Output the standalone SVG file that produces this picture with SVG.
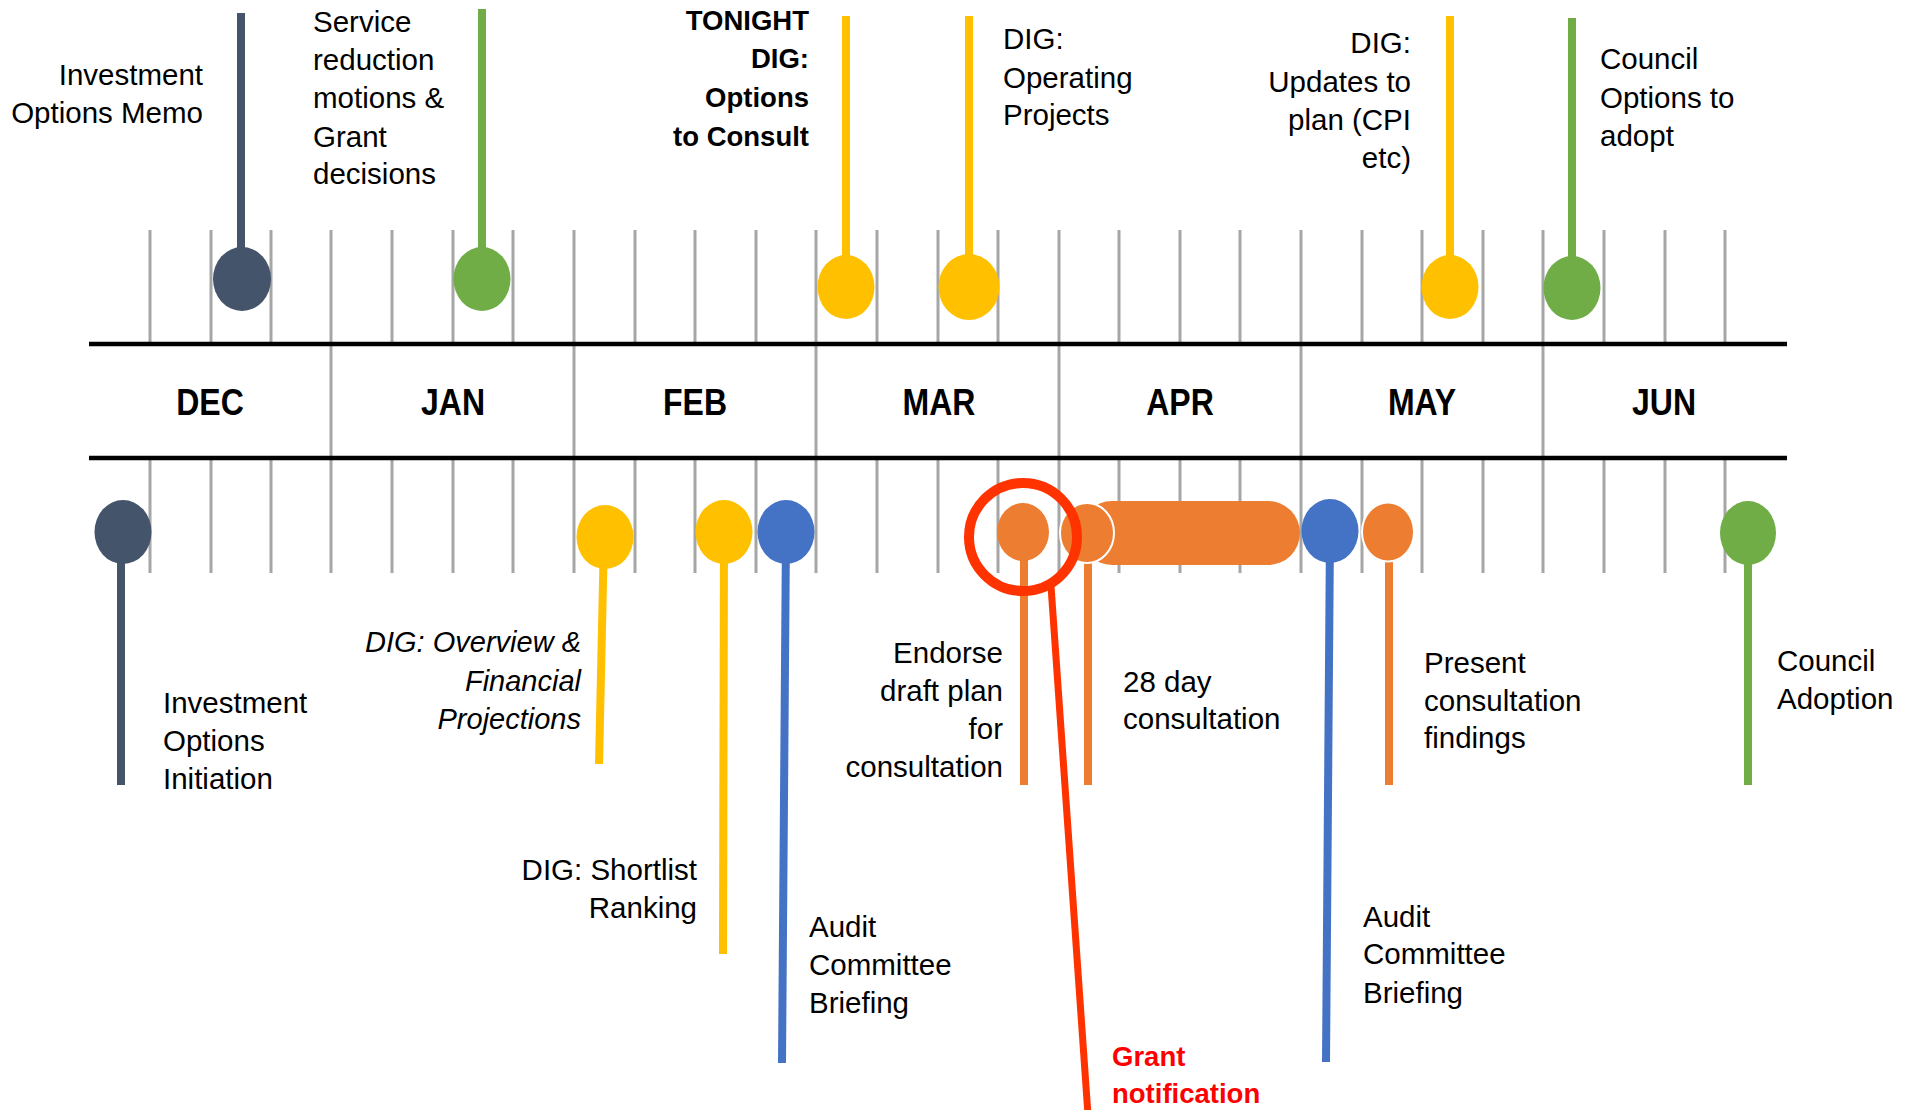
<svg xmlns="http://www.w3.org/2000/svg" width="1925" height="1110" viewBox="0 0 1925 1110">
<style>
.t{font-family:"Liberation Sans",Arial,sans-serif;font-size:29.5px;fill:#000}
.b{font-weight:bold;font-size:27.5px}
.i{font-style:italic;font-size:29px}
.m{font-family:"Liberation Sans",Arial,sans-serif;font-weight:bold;font-size:32px;text-anchor:middle}
.e{text-anchor:end}
.tick{stroke:#A6A6A6;stroke-width:3}
.ax{stroke:#000;stroke-width:4.5}
.stem{stroke-width:8;fill:none}
.slate{fill:#44546A}.green{fill:#70AD47}.yellow{fill:#FFC000}.blue{fill:#4472C4}.orange{fill:#ED7D31}
</style>
<rect width="1925" height="1110" fill="#fff"/>
<g id="axis">
<g id="ticks">
<path class="tick" d="M150,230V344M211,230V344M271,230V344M392,230V344M453,230V344M513,230V344M635,230V344M695,230V344M756,230V344M877,230V344M938,230V344M998,230V344M1119,230V344M1180,230V344M1240,230V344M1362,230V344M1422,230V344M1483,230V344M1604,230V344M1665,230V344M1725,230V344"/>
<path class="tick" d="M150,458V573M211,458V573M271,458V573M392,458V573M453,458V573M513,458V573M635,458V573M695,458V573M756,458V573M877,458V573M938,458V573M998,458V573M1119,458V573M1180,458V573M1240,458V573M1362,458V573M1422,458V573M1483,458V573M1604,458V573M1665,458V573M1725,458V573"/>
<path class="tick" d="M331,230V573M574,230V573M816,230V573M1059,230V573M1301,230V573M1543,230V573"/>
</g>
<line class="ax" x1="89" y1="344" x2="1787" y2="344"/>
<line class="ax" x1="89" y1="458" x2="1787" y2="458"/>
<text class="m" transform="translate(210,415) scale(1,1.17)">DEC</text>
<text class="m" transform="translate(453,415) scale(1,1.17)">JAN</text>
<text class="m" transform="translate(695,415) scale(1,1.17)">FEB</text>
<text class="m" transform="translate(939,415) scale(1,1.17)">MAR</text>
<text class="m" transform="translate(1180,415) scale(1,1.17)">APR</text>
<text class="m" transform="translate(1422,415) scale(1,1.17)">MAY</text>
<text class="m" transform="translate(1664,415) scale(1,1.17)">JUN</text>
</g>
<g id="connectors">
<line class="stem" stroke="#44546A" x1="241" y1="13" x2="241" y2="279"/>
<line class="stem" stroke="#70AD47" x1="482" y1="9" x2="482" y2="279"/>
<line class="stem" stroke="#FFC000" x1="846" y1="16" x2="846" y2="287"/>
<line class="stem" stroke="#FFC000" x1="969" y1="16" x2="969" y2="287"/>
<line class="stem" stroke="#FFC000" x1="1450" y1="16" x2="1450" y2="287"/>
<line class="stem" stroke="#70AD47" x1="1572" y1="18" x2="1572" y2="288"/>
<line class="stem" stroke="#44546A" x1="121" y1="532" x2="121" y2="785"/>
<line class="stem" stroke="#FFC000" x1="604" y1="537" x2="599" y2="764"/>
<line class="stem" stroke="#FFC000" x1="724" y1="532" x2="723" y2="954"/>
<line class="stem" stroke="#4472C4" x1="786" y1="532" x2="782" y2="1063"/>
<line class="stem" stroke="#ED7D31" x1="1024" y1="532" x2="1024" y2="785"/>
<line class="stem" stroke="#ED7D31" x1="1088" y1="533" x2="1088" y2="785"/>
<line class="stem" stroke="#4472C4" x1="1330" y1="531" x2="1326" y2="1062"/>
<line class="stem" stroke="#ED7D31" x1="1389" y1="532" x2="1389" y2="785"/>
<line class="stem" stroke="#70AD47" x1="1748" y1="533" x2="1748" y2="785"/>
</g>
<g id="investment-options-memo">
<ellipse class="slate" cx="242" cy="279" rx="29" ry="32"/>
<text class="t e" x="203" y="85">Investment</text>
<text class="t e" x="203" y="123">Options Memo</text>
</g>
<g id="service-reduction">
<ellipse class="green" cx="482" cy="279" rx="28.5" ry="32"/>
<text class="t" x="313" y="32">Service</text>
<text class="t" x="313" y="70">reduction</text>
<text class="t" x="313" y="108">motions &amp;</text>
<text class="t" x="313" y="147">Grant</text>
<text class="t" x="313" y="184">decisions</text>
</g>
<g id="tonight-dig">
<ellipse class="yellow" cx="846" cy="287" rx="28.5" ry="32"/>
<text class="t b e" x="809" y="30">TONIGHT</text>
<text class="t b e" x="809" y="68">DIG:</text>
<text class="t b e" x="809" y="107">Options</text>
<text class="t b e" x="809" y="146">to Consult</text>
</g>
<g id="dig-operating-projects">
<ellipse class="yellow" cx="969" cy="287" rx="30.5" ry="33"/>
<text class="t" x="1003" y="49">DIG:</text>
<text class="t" x="1003" y="88">Operating</text>
<text class="t" x="1003" y="125">Projects</text>
</g>
<g id="dig-updates">
<ellipse class="yellow" cx="1450" cy="287" rx="28.5" ry="32"/>
<text class="t e" x="1411" y="53">DIG:</text>
<text class="t e" x="1411" y="92">Updates to</text>
<text class="t e" x="1411" y="130">plan (CPI</text>
<text class="t e" x="1411" y="168">etc)</text>
</g>
<g id="council-options">
<ellipse class="green" cx="1572" cy="288" rx="28.5" ry="32"/>
<text class="t" x="1600" y="69">Council</text>
<text class="t" x="1600" y="108">Options to</text>
<text class="t" x="1600" y="146">adopt</text>
</g>
<g id="investment-options-initiation">
<ellipse class="slate" cx="123" cy="532" rx="28.5" ry="32"/>
<text class="t" x="163" y="713">Investment</text>
<text class="t" x="163" y="751">Options</text>
<text class="t" x="163" y="789">Initiation</text>
</g>
<g id="dig-overview">
<ellipse class="yellow" cx="605" cy="537" rx="28.5" ry="32"/>
<text class="t i e" x="581" y="652">DIG: Overview &amp;</text>
<text class="t i e" x="581" y="691">Financial</text>
<text class="t i e" x="581" y="729">Projections</text>
</g>
<g id="dig-shortlist">
<ellipse class="yellow" cx="724" cy="532" rx="28.5" ry="32"/>
<text class="t e" x="697" y="880">DIG: Shortlist</text>
<text class="t e" x="697" y="918">Ranking</text>
</g>
<g id="audit-committee-1">
<ellipse class="blue" cx="786" cy="532" rx="28.5" ry="32"/>
<text class="t" x="809" y="937">Audit</text>
<text class="t" x="809" y="975">Committee</text>
<text class="t" x="809" y="1013">Briefing</text>
</g>
<g id="endorse-draft-plan">
<ellipse class="orange" cx="1023" cy="532" rx="26" ry="29"/>
<text class="t e" x="1003" y="663">Endorse</text>
<text class="t e" x="1003" y="701">draft plan</text>
<text class="t e" x="1003" y="739">for</text>
<text class="t e" x="1003" y="777">consultation</text>
</g>
<g id="consultation-28-day">
<rect class="orange" x="1080" y="501" width="220" height="64" rx="32" ry="32"/>
<ellipse class="orange" cx="1087" cy="533" rx="27" ry="30" stroke="#fff" stroke-width="2"/>
<text class="t" x="1123" y="692">28 day</text>
<text class="t" x="1123" y="729">consultation</text>
</g>
<g id="audit-committee-2">
<ellipse class="blue" cx="1330" cy="531" rx="28.5" ry="32"/>
<text class="t" x="1363" y="927">Audit</text>
<text class="t" x="1363" y="964">Committee</text>
<text class="t" x="1363" y="1003">Briefing</text>
</g>
<g id="present-findings">
<ellipse class="orange" cx="1388" cy="532" rx="26" ry="29.5" stroke="#fff" stroke-width="2"/>
<text class="t" x="1424" y="673">Present</text>
<text class="t" x="1424" y="711">consultation</text>
<text class="t" x="1424" y="748">findings</text>
</g>
<g id="council-adoption">
<ellipse class="green" cx="1748" cy="533" rx="28" ry="32"/>
<text class="t" x="1777" y="671">Council</text>
<text class="t" x="1777" y="709">Adoption</text>
</g>
<g id="grant-notification">
<ellipse cx="1023" cy="537" rx="54" ry="54" fill="none" stroke="#FF3300" stroke-width="10"/>
<line x1="1051" y1="586" x2="1088" y2="1115" stroke="#FF3300" stroke-width="7"/>
<text class="t b" x="1112" y="1066" style="fill:#FF0000">Grant</text>
<text class="t b" x="1112" y="1103" style="fill:#FF0000">notification</text>
</g>
</svg>
